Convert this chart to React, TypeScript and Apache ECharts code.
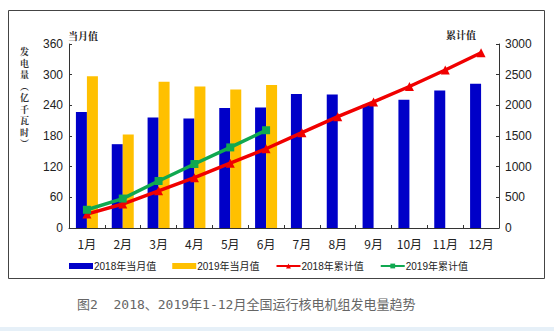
import React, { useEffect, useRef } from "react";
import * as echarts from "echarts";

const months = ["1月", "2月", "3月", "4月", "5月", "6月", "7月", "8月", "9月", "10月", "11月", "12月"];
const monthly2018 = [227, 164, 216, 214, 235, 236, 262, 261, 241, 251, 269, 282];
const monthly2019 = [297, 183, 286, 277, 271, 280, null, null, null, null, null, null];
const cumulative2018 = [227, 391, 607, 821, 1056, 1292, 1554, 1815, 2056, 2307, 2576, 2858];
const cumulative2019 = [297, 480, 766, 1043, 1314, 1594, null, null, null, null, null, null];
const leftTicks = { min: 0, max: 360, interval: 60 };
const rightTicks = { min: 0, max: 3000, interval: 500 };

const serifCJK = "'Noto Serif CJK SC', 'Noto Sans CJK SC', serif";

export default function App() {
  const ref = useRef<HTMLDivElement>(null);
  useEffect(() => {
    if (!ref.current) return;
    const chart = echarts.init(ref.current, undefined, { renderer: "svg" });
    const axisLine = { show: true, lineStyle: { color: "#333", width: 1 } };
    chart.setOption({
      animation: false,
      backgroundColor: "#fff",
      grid: { left: 69, right: 55, top: 44, bottom: 103, containLabel: false },
      legend: {
        left: 64,
        top: 256,
        itemWidth: 24,
        itemHeight: 6,
        itemGap: 16,
        textStyle: { fontSize: 10, color: "#222", fontFamily: "Arial, 'Noto Sans CJK SC', sans-serif", padding: [0, 0, 0, -4] },
        data: [
          { name: "2018年当月值", icon: "rect" },
          { name: "2019年当月值", icon: "rect" },
          { name: "2018年累计值" },
          { name: "2019年累计值" },
        ],
      },
      xAxis: {
        type: "category",
        data: months,
        axisLine,
        axisTick: { show: true, inside: true, length: 3, lineStyle: { color: "#333" } },
        axisLabel: { fontSize: 12, color: "#222", margin: 9, fontFamily: "'Noto Sans CJK SC', sans-serif" },
      },
      yAxis: [
        {
          type: "value",
          ...leftTicks,
          axisLine,
          axisTick: { show: true, inside: true, length: 3, lineStyle: { color: "#333" } },
          splitLine: { show: false },
          axisLabel: { fontSize: 12, color: "#222", margin: 6, fontFamily: "Arial, 'Liberation Sans', sans-serif" },
        },
        {
          type: "value",
          ...rightTicks,
          axisLine,
          axisTick: { show: true, inside: true, length: 3, lineStyle: { color: "#333" } },
          splitLine: { show: false },
          axisLabel: {
            fontSize: 12,
            color: "#222",
            margin: 6,
            fontFamily: "Arial, 'Liberation Sans', sans-serif",
            formatter: (v: number) => String(v),
          },
        },
      ],
      series: [
        {
          name: "2018年当月值",
          type: "bar",
          data: monthly2018,
          barWidth: 11,
          barGap: "0%",
          itemStyle: { color: "#0000C8" },
        },
        {
          name: "2019年当月值",
          type: "bar",
          data: monthly2019,
          barWidth: 11,
          barGap: "0%",
          itemStyle: { color: "#FFC000" },
        },
        {
          name: "2018年累计值",
          type: "line",
          yAxisIndex: 1,
          data: cumulative2018,
          symbol: "triangle",
          symbolSize: 9,
          lineStyle: { color: "#F00000", width: 3.5 },
          itemStyle: { color: "#F00000" },
        },
        {
          name: "2019年累计值",
          type: "line",
          yAxisIndex: 1,
          data: cumulative2019,
          symbol: "rect",
          symbolSize: 8,
          lineStyle: { color: "#10A850", width: 3.5 },
          itemStyle: { color: "#10A850" },
        },
      ],
      graphic: [
        {
          type: "rect",
          shape: { x: 8.5, y: 10.5, width: 536, height: 268 },
          style: { fill: "none", stroke: "#444", lineWidth: 1 },
          z: -1,
        },
        {
          type: "rect",
          shape: { x: 0, y: 327, width: 554, height: 4 },
          style: { fill: "#E6F0F8" },
        },
        {
          type: "text",
          x: 20,
          y: 46,
          style: {
            text: "发\n电\n量\n︵\n亿\n千\n瓦\n时\n︶",
            fontSize: 9,
            lineHeight: 11.5,
            fontWeight: "bold",
            fill: "#333",
            fontFamily: serifCJK,
          },
        },
        {
          type: "text",
          x: 68,
          y: 30,
          style: { text: "当月值", fontSize: 10, fontWeight: "bold", fill: "#222", fontFamily: serifCJK },
        },
        {
          type: "text",
          x: 446,
          y: 29,
          style: { text: "累计值", fontSize: 10, fontWeight: "bold", fill: "#222", fontFamily: serifCJK },
        },
        {
          type: "text",
          x: 77,
          y: 298,
          style: {
            text: "图2  2018、2019年1-12月全国运行核电机组发电量趋势",
            fontSize: 13,
            fill: "#666",
            fontFamily: "'DejaVu Sans Mono', 'Noto Sans CJK SC', monospace",
          },
        },
      ],
    });
    return () => chart.dispose();
  }, []);
  return <div ref={ref} style={{ position: "fixed", left: 0, top: 0, width: 554, height: 331 }} />;
}
